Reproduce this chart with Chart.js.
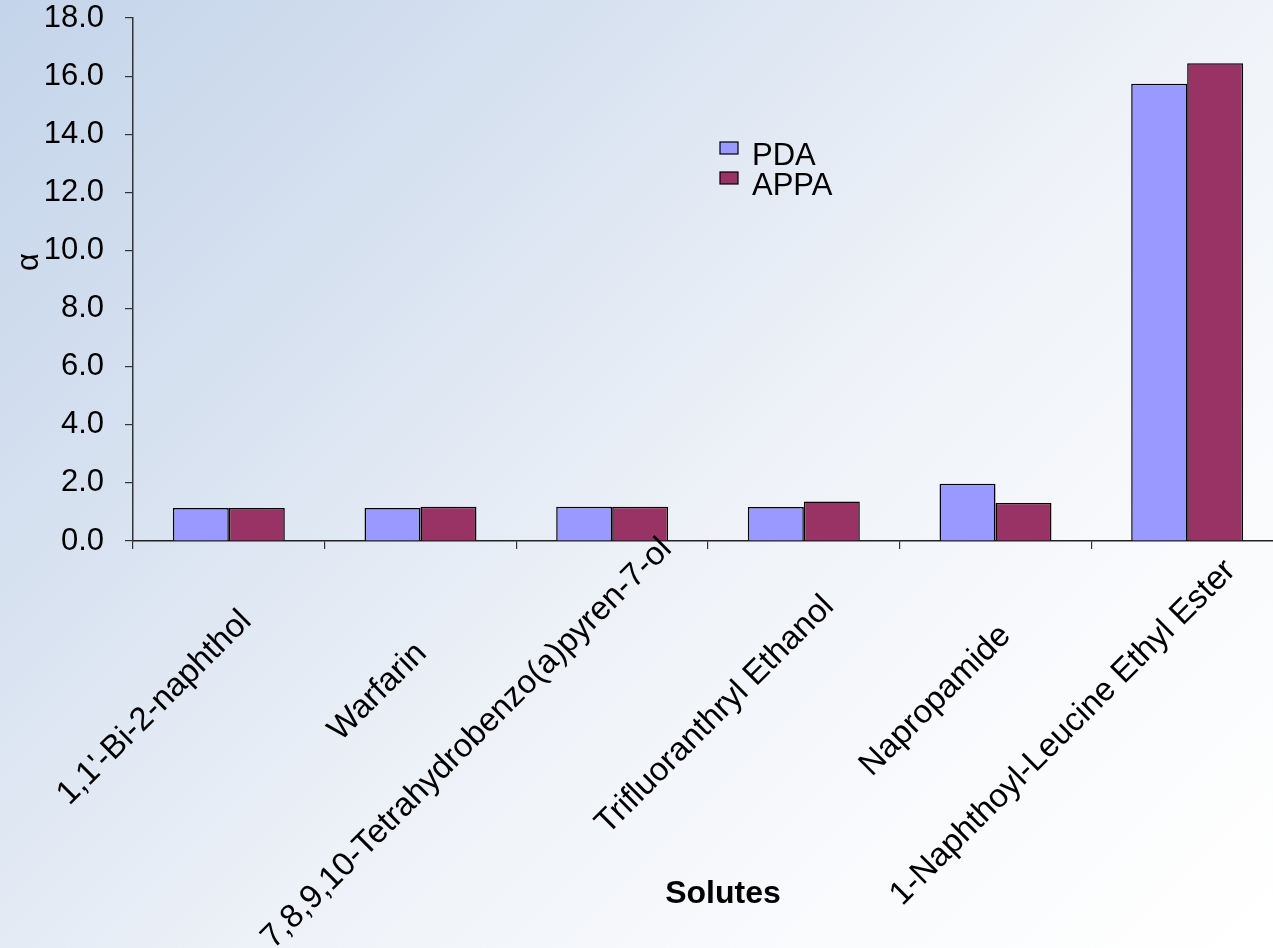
<!DOCTYPE html>
<html>
<head>
<meta charset="utf-8">
<script src="https://cdn.jsdelivr.net/npm/chart.js@4.4.1/dist/chart.umd.min.js"></script>
<style>
  html, body { margin: 0; padding: 0; width: 1273px; height: 948px; overflow: hidden; }
  body { background: linear-gradient(135deg, #c4d4ea 0%, #d9e3f1 30%, #eef2f8 55%, #fafbfd 80%, #ffffff 100%); }
  #wrap { position: absolute; left: 0; top: 0; width: 1300px; height: 948px; }
</style>
</head>
<body>
<div id="wrap"><canvas id="c" width="1300" height="948"></canvas></div>
<script>
/* 데이터 */
var solutes = [
  "1,1'-Bi-2-naphthol",
  'Warfarin',
  '7,8,9,10-Tetrahydrobenzo(a)pyren-7-ol',
  'Trifluoranthryl Ethanol',
  'Napropamide',
  '1-Naphthoyl-Leucine Ethyl Ester'
];
var seriesNames = ['PDA', 'APPA'];
var pdaValues = [1.14, 1.14, 1.18, 1.17, 1.97, 15.74];
var appaValues = [1.14, 1.18, 1.18, 1.36, 1.31, 16.44];
var yMin = 0, yMax = 18, yStep = 2;
var xTitle = 'Solutes';
var yTitle = 'α';

var FONT = "'Liberation Sans', Arial, Helvetica, sans-serif";
var COLORS = ['#9999ff', '#993366'];
var INK = '#000000';

/* x 라벨, 축 제목, 범례를 직접 그린다 */
var decor = {
  id: 'decor',
  afterDraw: function (chart) {
    var ctx = chart.ctx, xs = chart.scales.x, area = chart.chartArea;
    ctx.save();
    ctx.fillStyle = INK;

    // 45도 회전 카테고리 라벨 (긴 라벨일수록 왼쪽 아래로 밀림)
    ctx.font = '33px ' + FONT;
    ctx.textAlign = 'center';
    ctx.textBaseline = 'middle';
    solutes.forEach(function (s, i) {
      var px = xs.getPixelForTick(i);
      var w = ctx.measureText(s).width;
      var cx = px - 14 - 0.2325 * w;
      var cy = area.bottom + 136.5 + 0.117 * w;
      ctx.save();
      ctx.translate(cx, cy);
      ctx.rotate(-Math.PI / 4);
      ctx.fillText(s, 0, 0);
      ctx.restore();
    });

    // 축 제목
    ctx.font = 'bold 32px ' + FONT;
    ctx.textBaseline = 'alphabetic';
    ctx.fillText(xTitle, 723, 903);
    ctx.font = '31px ' + FONT;
    ctx.save();
    ctx.translate(29, 262);
    ctx.rotate(-Math.PI / 2);
    ctx.textBaseline = 'middle';
    ctx.fillText(yTitle, 0, 0);
    ctx.restore();

    // 범례
    ctx.textAlign = 'left';
    ctx.textBaseline = 'alphabetic';
    seriesNames.forEach(function (name, i) {
      var y = 142 + i * 30;
      ctx.fillStyle = COLORS[i];
      ctx.fillRect(720, y, 18, 12);
      ctx.strokeStyle = INK;
      ctx.lineWidth = 1.2;
      ctx.strokeRect(720, y, 18, 12);
      ctx.fillStyle = INK;
      ctx.fillText(name, 752, y + 23);
    });
    ctx.restore();
  }
};

new Chart(document.getElementById('c'), {
  type: 'bar',
  data: {
    labels: solutes,
    datasets: [
      { label: seriesNames[0], data: pdaValues, backgroundColor: COLORS[0], borderColor: INK, borderWidth: 1.5 },
      { label: seriesNames[1], data: appaValues, backgroundColor: COLORS[1], borderColor: INK, borderWidth: 1.5 }
    ]
  },
  options: {
    responsive: false,
    animation: false,
    categoryPercentage: 0.584,
    barPercentage: 1,
    layout: { padding: { left: 0, top: 18, right: 17, bottom: 0 } },
    plugins: { legend: { display: false }, tooltip: { enabled: false } },
    scales: {
      x: {
        grid: { display: true, drawOnChartArea: false, drawTicks: true, tickLength: 8, color: '#333', lineWidth: 1.2 },
        border: { display: true, color: '#222', width: 1.5 },
        ticks: { display: false },
        afterFit: function (s) { s.height = 948 - 541; s.paddingLeft = 0; s.paddingRight = 0; }
      },
      y: {
        min: yMin, max: yMax,
        grid: { display: true, drawOnChartArea: false, drawTicks: true, tickLength: 8, color: '#333', lineWidth: 1.2 },
        border: { display: true, color: '#333', width: 1.5 },
        ticks: {
          stepSize: yStep, padding: 21, color: INK,
          font: { family: FONT, size: 31, lineHeight: 1 },
          callback: function (v) { return Number(v).toFixed(1); }
        },
        afterFit: function (s) { s.width = 133; s.paddingTop = 0; s.paddingBottom = 0; }
      }
    }
  },
  plugins: [decor]
});
</script>
</body>
</html>
